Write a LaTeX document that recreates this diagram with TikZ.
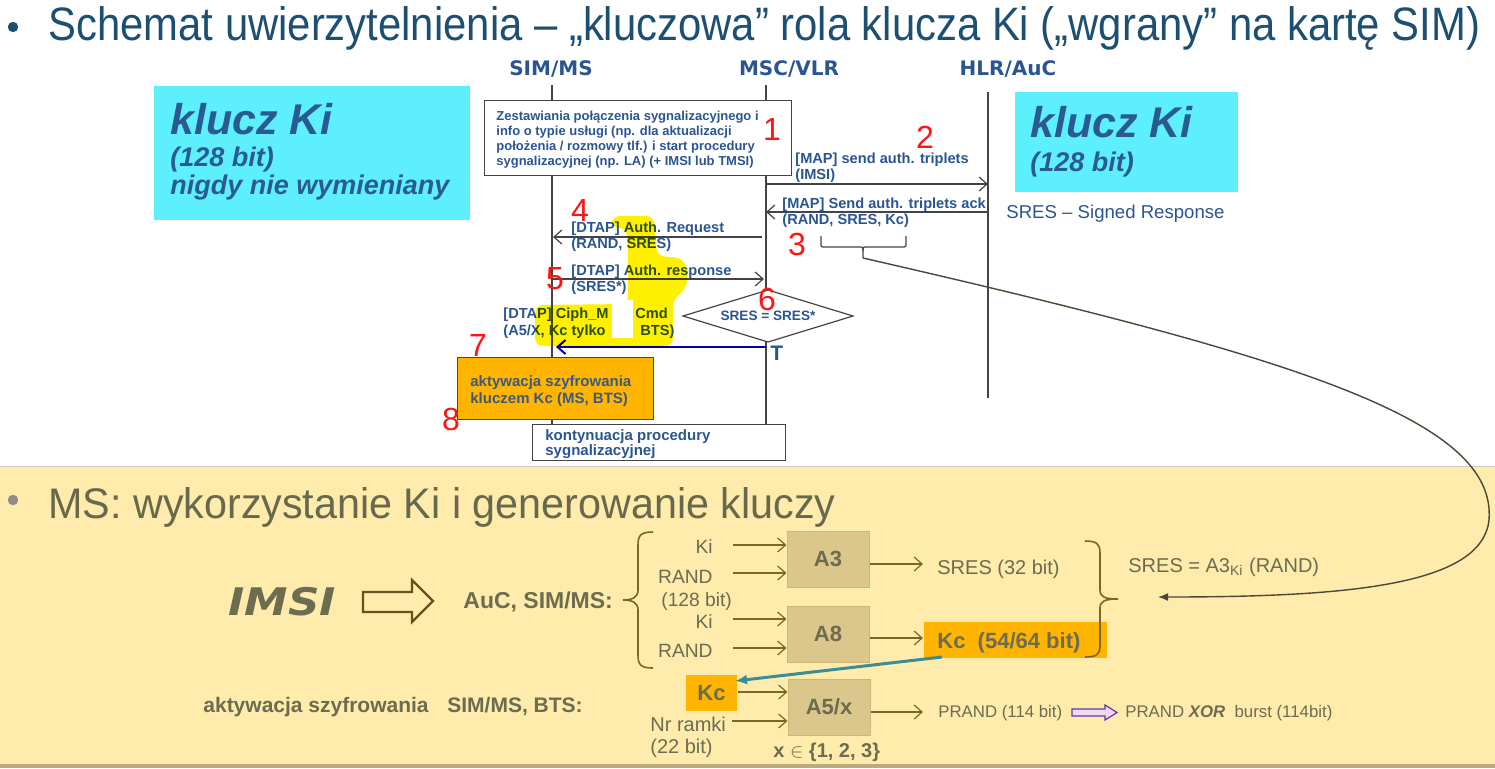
\documentclass[tikz,border=0pt]{standalone}
\usepackage{fontspec}
\usepackage{graphicx}
\setmainfont{Liberation Sans}
\newfontfamily\dvs{DejaVu Sans}
\usetikzlibrary{arrows.meta}

\definecolor{titleblue}{HTML}{1D4F73}
\definecolor{diagblue}{HTML}{2B5590}
\definecolor{kiblue}{HTML}{2A5A92}
\definecolor{numred}{HTML}{FF1414}
\definecolor{cyanbg}{HTML}{5DEFFC}
\definecolor{msggray}{HTML}{444444}
\definecolor{boxorange}{HTML}{FFB400}
\definecolor{slate}{HTML}{3A5A80}
\definecolor{beige}{HTML}{FFEBAB}
\definecolor{bandtan}{HTML}{BBAA80}
\definecolor{olivetext}{HTML}{6C6C50}
\definecolor{olivehead}{HTML}{66694C}
\definecolor{olivearrow}{HTML}{7B6626}
\definecolor{tanfill}{HTML}{DBC68C}
\definecolor{tanborder}{HTML}{CDB676}
\definecolor{teal}{HTML}{3D8C95}
\definecolor{hlyellow}{HTML}{FFF000}
\definecolor{lavender}{HTML}{F3D8F6}
\definecolor{purpleline}{HTML}{5A3CA0}
\definecolor{curvegray}{HTML}{4A4838}

\newcommand\fsz[2]{\fontsize{#1pt}{#2pt}\selectfont}

\begin{document}
\begin{tikzpicture}[x=0.5pt,y=-0.5pt,
  txt/.style={inner sep=0pt, anchor=base west},
  msgtxt/.style={txt, text=diagblue, font=\fsz{7.3}{8}\bfseries, align=left},
  hdr/.style={inner sep=0pt, anchor=base, text=diagblue, font=\dvs\fsz{10}{12}\bfseries},
  num/.style={inner sep=0pt, anchor=base, text=numred, font=\fsz{16}{16}},
  life/.style={draw=msggray, line width=0.7pt},
  msg/.style={draw=msggray, line width=0.6pt, -{Straight Barb[length=4pt,width=7pt]}},
  kitxt/.style={txt, text=kiblue, font=\bfseries\itshape},
  oltxt/.style={txt, text=olivetext, font=\fsz{9.6}{11}},
  olbold/.style={txt, text=olivetext, font=\fsz{10.5}{12}\bfseries},
  oarr/.style={draw=olivearrow, line width=0.6pt, -{Straight Barb[length=4pt,width=7pt]}},
  algbox/.style={fill=tanfill, draw=tanborder, line width=0.5pt, text=olivetext,
                 font=\fsz{11}{12}\bfseries, minimum width=41pt, minimum height=28pt, inner sep=0pt},
  whitebox/.style={fill=white, draw=msggray, line width=0.5pt, inner sep=0pt},
  orangebox/.style={fill=boxorange, inner sep=0pt}
]
\useasboundingbox (0,0) rectangle (1495,768);

% backgrounds of the two halves
\fill[white] (0,0) rectangle (1495,467);
\fill[beige] (0,467) rectangle (1495,768);
\draw[black!22, line width=0.7pt] (0,466.5) -- (1495,466.5);
\fill[bandtan] (0,764) rectangle (1495,768);

% ---------- heading ----------
\fill[titleblue] (13,27) circle[radius=2.6pt];
\node[txt, text=titleblue] (title) at (48,40)
  {\resizebox{716pt}{17pt}{\fsz{20}{24}Schemat uwierzytelnienia – „kluczowa” rola klucza Ki („wgrany” na kartę SIM)}};

% ---------- key boxes ----------
\node[fill=cyanbg, minimum width=158pt, minimum height=67pt, inner sep=0pt] (kileft) at (312,153) {};
\node[kitxt, font=\fsz{21.5}{24}\bfseries\itshape] (kil1) at (170,134) {klucz Ki};
\node[kitxt, font=\fsz{13.5}{15}\bfseries\itshape] (kil2) at (170,166) {(128 bit)};
\node[kitxt, font=\fsz{13.5}{15}\bfseries\itshape] (kil3) at (170,194) {nigdy nie wymieniany};

\node[fill=cyanbg, minimum width=111.5pt, minimum height=50pt, inner sep=0pt] (kiright) at (1126.5,142) {};
\node[kitxt, font=\fsz{21.5}{24}\bfseries\itshape] (kir1) at (1030,137) {klucz Ki};
\node[kitxt, font=\fsz{13.5}{15}\bfseries\itshape] (kir2) at (1030,171) {(128 bit)};
\node[txt, text=diagblue, font=\fsz{9.3}{11}] (sresname) at (1006,218) {SRES – Signed Response};

% ---------- lifelines ----------
\node[hdr] (hsim) at (551,75) {SIM/MS};
\node[hdr] (hmsc) at (789,75) {MSC/VLR};
\node[hdr] (hhlr) at (1008,75) {HLR/AuC};
\coordinate (simtop) at (552,85);  \coordinate (simbot) at (552,424);
\coordinate (msctop) at (766,85);  \coordinate (mscbot) at (766,424);
\coordinate (hlrtop) at (988,92);  \coordinate (hlrbot) at (988,398);
\draw[life] (simtop) -- (simbot);
\draw[life] (msctop) -- (mscbot);
\draw[life] (hlrtop) -- (hlrbot);

% ---------- step 1 ----------
% (multi-line nodes are placed by the baseline of their last line)
\node[whitebox, minimum width=153.5pt, minimum height=37.5pt] (setup) at (637.5,137.5) {};
\node[txt, text=diagblue, font=\fsz{6.5}{7.5}\bfseries, align=left] (setuptxt) at (496,165)
  {Zestawiania połączenia sygnalizacyjnego i\\info o typie usługi (np. dla aktualizacji\\położenia / rozmowy tlf.) i start procedury\\sygnalizacyjnej (np. LA) (+ IMSI lub TMSI)};

% ---------- messages ----------
\coordinate (m2a) at (765,184);  \coordinate (m2b) at (988,184);
\coordinate (m3a) at (988,212);  \coordinate (m3b) at (766,212);
\coordinate (m4a) at (762,237);  \coordinate (m4b) at (553,237);
\coordinate (m5a) at (553,279);  \coordinate (m5b) at (764,279);
\draw[msg] (m2a) -- (m2b);
\draw[msg] (m3a) -- (m3b);
\draw[msg] (m4a) -- (m4b);
\draw[msg] (m5a) -- (m5b);
\node[msgtxt] (t2) at (795,179) {[MAP] send auth. triplets\\(IMSI)};
\node[msgtxt] (t3) at (782,224) {[MAP] Send auth. triplets ack\\(RAND, SRES, Kc)};
\node[msgtxt] (t4) at (571,248) {[DTAP] Auth. Request\\(RAND, SRES)};
\node[msgtxt] (t5) at (571,291) {[DTAP] Auth. response\\(SRES*)};

% brace under the triplet
\coordinate (bracetip) at (863,258);
\draw[msggray, line width=0.6pt]
  (821,236) -- (821,243) .. controls (821,247) .. (825,247) -- (859,247)
  .. controls (863,247) .. (863,251) -- (bracetip);
\draw[msggray, line width=0.6pt]
  (906,236) -- (906,243) .. controls (906,247) .. (902,247) -- (867,247)
  .. controls (863,247) .. (863,251);

% comparison
\draw[fill=white, draw=msggray, line width=0.6pt] (683,316) -- (768,290) -- (853,316) -- (768,342) -- cycle;
\node[inner sep=0pt, anchor=base, text=diagblue, font=\fsz{6.8}{8}\bfseries] (cmp) at (768,320) {SRES = SRES*};

% cipher mode command
\node[msgtxt] (t7a) at (503,318) {[DTAP] Ciph\_M};
\node[msgtxt] (t7b) at (635,318) {Cmd};
\node[msgtxt] (t7c) at (503,335) {(A5/X, Kc tylko};
\node[msgtxt] (t7d) at (640,335) {BTS)};
\coordinate (m7a) at (766,347);  \coordinate (m7b) at (556,347);
\draw[draw=blue!70!black, line width=1pt, -{Straight Barb[length=4pt,width=7pt]}] (m7a) -- (m7b);
\node[txt, text=diagblue, font=\fsz{10.5}{12}\bfseries] (tlab) at (770,360) {T};

% highlighter marks
\begin{scope}[blend mode=multiply]
  \fill[hlyellow, rounded corners=4pt]
    (612,216) -- (654,216) -- (657,256) -- (683,258) -- (689,275) -- (684,292) -- (673,298)
    -- (673,346) -- (535,346) -- (535,305) -- (628,304) -- (628,258) -- (627,228) -- (612,228) -- cycle;
\end{scope}
\fill[white] (612,300) rectangle (633,338);

% steps 7, 8
\node[orangebox, draw=msggray, line width=0.5pt, minimum width=98pt, minimum height=31pt] (activ) at (555,388) {};
\node[txt, text=slate, font=\fsz{7.5}{8.5}\bfseries, align=left] (activtxt) at (470,403)
  {aktywacja szyfrowania\\kluczem Kc (MS, BTS)};
\node[whitebox, minimum width=126.5pt, minimum height=18pt] (cont) at (658.5,442) {};
\node[txt, text=diagblue, font=\fsz{7.5}{7.75}\bfseries, align=left] (conttxt) at (545,455.5)
  {kontynuacja procedury\\sygnalizacyjnej};

% step numbers
\node[num] (n1) at (772,140) {1};
\node[num] (n2) at (925,148) {2};
\node[num] (n3) at (797,255) {3};
\node[num] (n4) at (580,221) {4};
\node[num] (n5) at (555,289) {5};
\node[num] (n6) at (767,310) {6};
\node[num] (n7) at (478,356) {7};
\node[num] (n8) at (451,430) {8};

% ---------- key generation ----------
\fill[gray!90] (13,500) circle[radius=2.6pt];
\node[txt, text=olivehead] (subtitle) at (48,518)
  {\resizebox{393.5pt}{15.5pt}{\fsz{20}{24}MS: wykorzystanie Ki i generowanie kluczy}};

\node[txt, text=olivetext] (imsi) at (228,615) {\scalebox{1.15}[1]{\dvs\fsz{19}{22}\bfseries\itshape IMSI}};
\draw[draw=olivearrow!80!black, line width=1.1pt, line join=miter]
  (363,592) -- (412,592) -- (412,580) -- (433,601) -- (412,622) -- (412,612) -- (363,612) -- cycle;
\node[txt, text=olivetext, font=\fsz{11.5}{13}\bfseries] (aucsim) at (463,608) {AuC, SIM/MS:};

\draw[olivearrow, line width=0.8pt]
  (653,532) .. controls (641,532) and (638,535) .. (638,545) -- (638,590)
  .. controls (638,597) and (633,600) .. (623,600)
  .. controls (633,600) and (638,603) .. (638,610) -- (638,655)
  .. controls (638,665) and (641,668) .. (653,668);

\node[algbox] (a3) at (828,559) {A3};
\node[algbox] (a8) at (828,634) {A8};
\node[algbox] (a5) at (829,707) {A5/x};

\node[oltxt, anchor=base east] (ki1) at (713,553) {Ki};
\node[oltxt, anchor=base east] (rand1) at (713,583) {RAND};
\node[oltxt] (bits128) at (661,606) {(128 bit)};
\node[oltxt, anchor=base east] (ki2) at (713,628) {Ki};
\node[oltxt, anchor=base east] (rand2) at (713,657) {RAND};

\coordinate (ki1s) at (733,545);
\coordinate (rand1s) at (733,573);
\coordinate (ki2s) at (733,619);
\coordinate (rand2s) at (733,648);
\draw[oarr] (ki1s) -- (ki1s -| a3.west);
\draw[oarr] (rand1s) -- (rand1s -| a3.west);
\draw[oarr] (ki2s) -- (ki2s -| a8.west);
\draw[oarr] (rand2s) -- (rand2s -| a8.west);

\coordinate (sresend) at (923,564);
\draw[oarr] (a3.east |- sresend) -- (sresend);
\node[txt, text=olivetext, font=\fsz{10}{12}] (sres32) at (937,574) {SRES (32 bit)};

\node[orangebox, minimum width=91.5pt, minimum height=18pt] (kcbig) at (1015.5,640) {};
\node[txt, text=olivetext, font=\fsz{11}{12}\bfseries] (kcbigtxt) at (937,648) {Kc\ \ (54/64 bit)};
\coordinate (kcend) at (923,638);
\draw[oarr] (a8.east |- kcend) -- (kcend);

\draw[olivearrow, line width=0.8pt]
  (1085,541) .. controls (1097,541) and (1100,544) .. (1100,553) -- (1100,590)
  .. controls (1100,597) and (1105,599) .. (1118,599)
  .. controls (1105,599) and (1100,601) .. (1100,608) -- (1100,646)
  .. controls (1100,654) and (1097,657) .. (1085,657);
\node[txt, text=olivetext, font=\fsz{10}{12}] (sresa3) at (1128,572) {SRES = A3\textsubscript{Ki} (RAND)};

% link from the triplet to the SIM side result
\coordinate (sresin) at (1158,597);
\draw[curvegray, line width=0.7pt, -{Latex[length=5pt,width=4pt]}]
  (bracetip) .. controls (1300,358) and (1497,420) .. (1489,520)
  .. controls (1482,585) and (1350,597) .. (sresin);

% cipher activation
\node[olbold] (activ2) at (203,712) {aktywacja szyfrowania};
\node[olbold] (simbts) at (447,712) {SIM/MS, BTS:};

\node[orangebox, minimum width=25.5pt, minimum height=18pt, text=olivetext,
      font=\fsz{11}{12}\bfseries] (kcsmall) at (711.5,693) {Kc};
\coordinate (kcfrom) at (942,657);
\coordinate (kcto) at (735,681);
\draw[teal, line width=1.5pt, -{Latex[length=6pt,width=5pt]}] (kcfrom) -- (kcto);

\node[oltxt, font=\fsz{10}{12}] (nrramki) at (650,731) {Nr ramki};
\node[oltxt, font=\fsz{10}{12}] (bits22) at (650,753) {(22 bit)};
\coordinate (kcsrc) at (738,692);
\draw[oarr] (kcsrc) -- (kcsrc -| a5.west);
\coordinate (nrsrc) at (732,721);
\draw[oarr] (nrsrc) -- (nrsrc -| a5.west);
\node[txt, text=olivetext, font=\fsz{10}{12}\bfseries] (xset) at (773,757) {x $\in$ \{1, 2, 3\}};

\coordinate (prandend) at (923,712);
\draw[oarr] (a5.east |- prandend) -- (prandend);
\node[txt, text=olivetext, font=\fsz{8.4}{10}] (prand) at (938,717) {PRAND (114 bit)};
\draw[fill=lavender, draw=purpleline, line width=0.6pt]
  (1072,709) -- (1105,709) -- (1105,705) -- (1117,712.5) -- (1105,720) -- (1105,716) -- (1072,716) -- cycle;
\node[txt, text=olivetext, font=\fsz{8.4}{10}] (xorburst) at (1125,717)
  {PRAND \textbf{\textit{XOR}}\ \ burst (114bit)};

\end{tikzpicture}
\end{document}
